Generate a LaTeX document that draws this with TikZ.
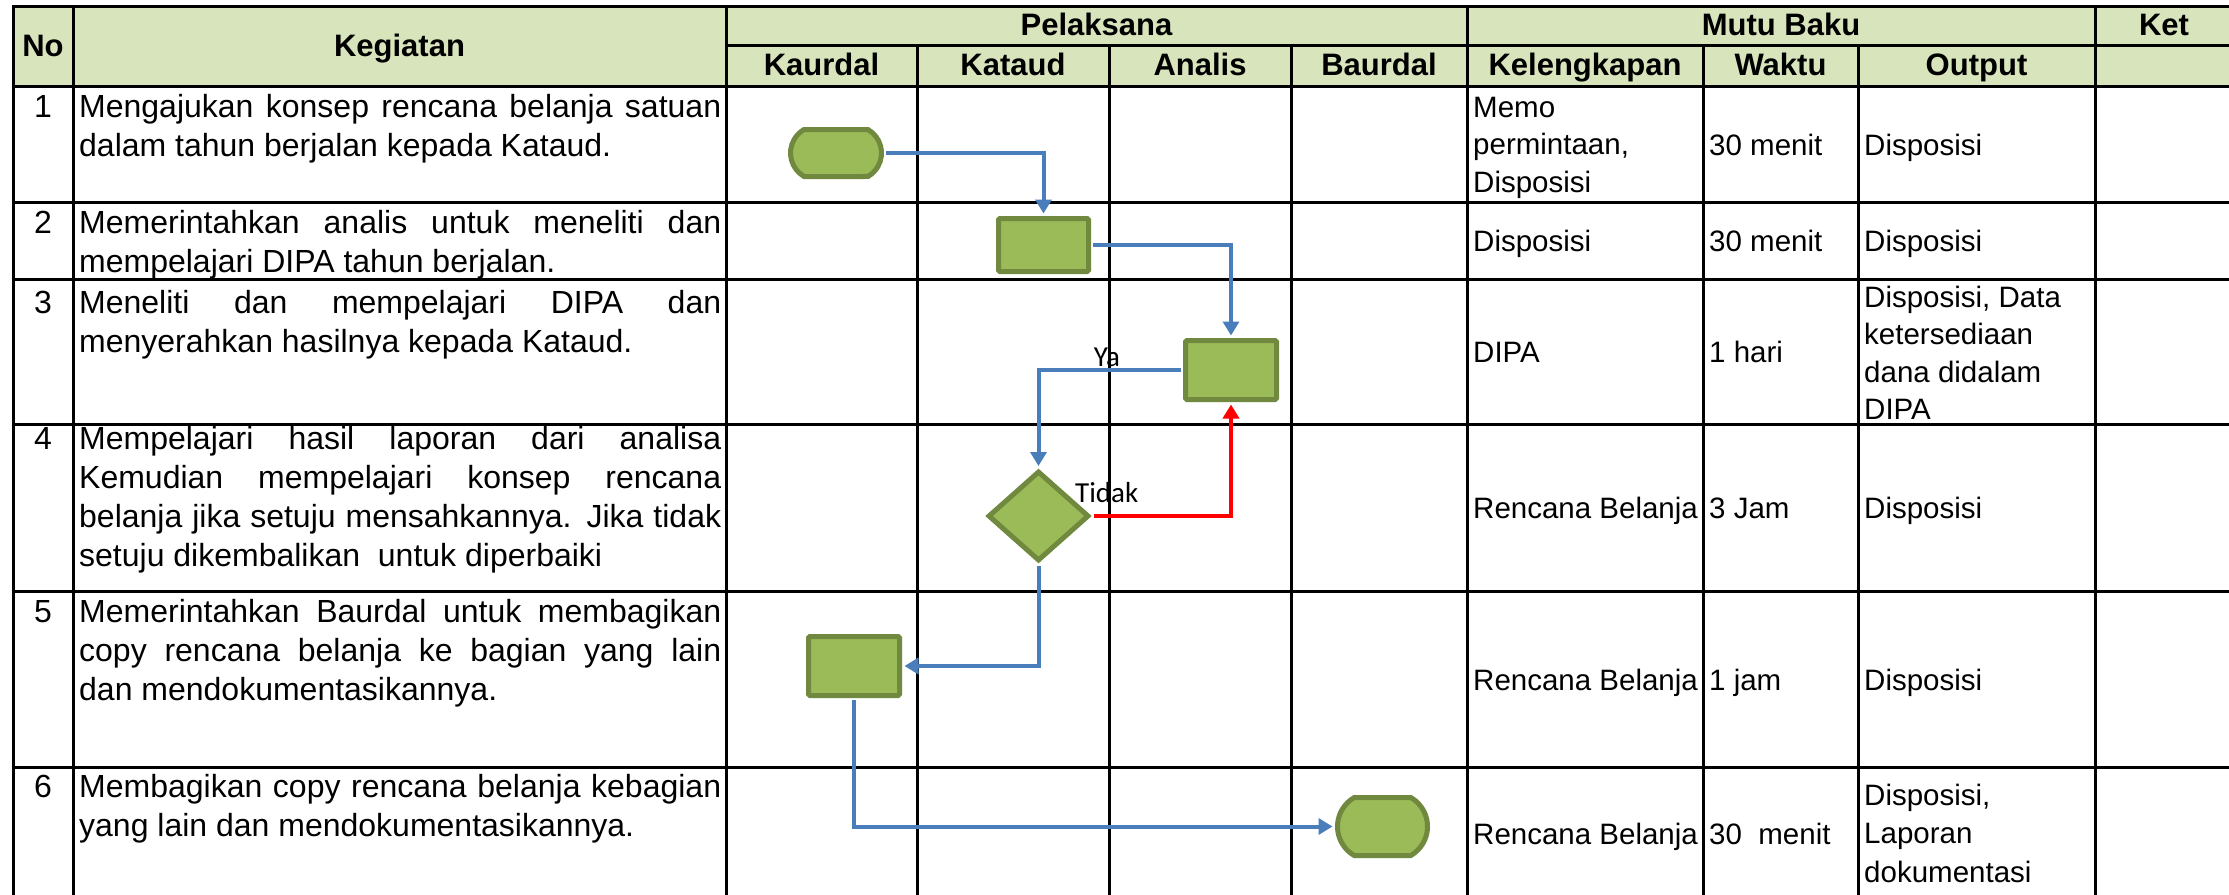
\documentclass[tikz,border=0pt]{standalone}
\usepackage{fontspec}
\setmainfont{Liberation Sans}
\newfontfamily\calibfont{Carlito}
\usetikzlibrary{shapes.geometric,shapes.misc,arrows.meta}
\definecolor{hdr}{HTML}{D8E4BC}
\definecolor{shfill}{HTML}{9BBB59}
\definecolor{shline}{HTML}{71893F}
\definecolor{conn}{HTML}{4A7EBB}
\definecolor{redflow}{HTML}{FF0000}
\newcommand{\kegtext}[1]{\parbox[t]{642pt}{#1}}
\newcommand{\jl}[1]{\makebox[642pt][s]{#1}}
\newcommand{\celltext}[1]{\parbox[t]{230pt}{\raggedright #1}}
\begin{document}
\begin{tikzpicture}[x=1pt,y=-1pt,
  grid/.style={line width=3pt, black, line cap=rect},
  hd/.style={anchor=base, inner sep=0pt, font=\fontsize{31}{37}\selectfont\bfseries},
  num/.style={anchor=base, inner sep=0pt, font=\fontsize{32}{39}\selectfont},
  keg/.style={anchor=base west, inner sep=0pt, font=\fontsize{32}{39}\selectfont},
  cell/.style={anchor=base west, inner sep=0pt, font=\fontsize{29.5}{37.5}\selectfont},
  fc/.style={draw=shline, fill=shfill, line width=5pt, inner sep=0pt},
  procbox/.style={fc, rectangle, rounded corners=1.5pt},
  termbox/.style={fc, rounded rectangle, rounded rectangle arc length=120},
  decbox/.style={fc, diamond},
  flow/.style={draw=conn, line width=4pt, -{Triangle[length=14pt,width=16pt]}, shorten >=2.5pt, shorten <=2pt},
  flowno/.style={flow, draw=redflow},
  lbl/.style={inner sep=0pt, font=\calibfont\fontsize{29}{34}\selectfont}
]
\useasboundingbox (0,0) rectangle (2229,894);
\clip (0,0) rectangle (2229,894);
\fill[white] (0,0) rectangle (2229,894);
% header background
\fill[hdr] (13,6) rectangle (2233,86);
% grid
\draw[grid] (13,6) -- (2233,6);
\draw[grid] (726,45) -- (2233,45);
\foreach \yy in {86,202,279,424,591,767,899} \draw[grid] (13,\yy) -- (2233,\yy);
\foreach \xx in {13,73,726,1467,2095,2233} \draw[grid] (\xx,6) -- (\xx,899);
\foreach \xx in {917,1109,1291,1703,1858} \draw[grid] (\xx,45) -- (\xx,899);

% header texts
\node[hd] (hno) at (43,56) {No};
\node[hd] (hkeg) at (399.5,56) {Kegiatan};
\node[hd] (hpel) at (1096.5,35) {Pelaksana};
\node[hd] (hmutu) at (1781,35) {Mutu Baku};
\node[hd] (hket) at (2164,35) {Ket};
\node[hd] (hkaurdal) at (821.5,75) {Kaurdal};
\node[hd] (hkataud) at (1013,75) {Kataud};
\node[hd] (hanalis) at (1200,75) {Analis};
\node[hd] (hbaurdal) at (1379,75) {Baurdal};
\node[hd] (hkel) at (1585,75) {Kelengkapan};
\node[hd] (hwaktu) at (1780.5,75) {Waktu};
\node[hd] (houtput) at (1976.5,75) {Output};

% numbers
\node[num] (n1) at (43,117) {1};
\node[num] (n2) at (43,233) {2};
\node[num] (n3) at (43,313) {3};
\node[num] (n4) at (43,449) {4};
\node[num] (n5) at (43,622) {5};
\node[num] (n6) at (43,797) {6};

% kegiatan
\node[keg] (k1) at (79,117) {\kegtext{\jl{Mengajukan konsep rencana belanja satuan}\\dalam tahun berjalan kepada Kataud.}};
\node[keg] (k2) at (79,233) {\kegtext{\jl{Memerintahkan analis untuk meneliti dan}\\mempelajari DIPA tahun berjalan.}};
\node[keg] (k3) at (79,313) {\kegtext{\jl{Meneliti dan mempelajari DIPA dan}\\menyerahkan hasilnya kepada Kataud.}};
\node[keg] (k4) at (79,449) {\kegtext{\jl{Mempelajari hasil laporan dari analisa}\\\jl{Kemudian mempelajari konsep rencana}\\\jl{belanja jika setuju mensahkannya. Jika tidak}\\setuju dikembalikan\ \ untuk diperbaiki}};
\node[keg] (k5) at (79,622) {\kegtext{\jl{Memerintahkan Baurdal untuk membagikan}\\\jl{copy rencana belanja ke bagian yang lain}\\dan mendokumentasikannya.}};
\node[keg] (k6) at (79,797) {\kegtext{\jl{Membagikan copy rencana belanja kebagian}\\yang lain dan mendokumentasikannya.}};

% kelengkapan
\node[cell] (c1a) at (1473,117) {\celltext{Memo\\permintaan,\\Disposisi}};
\node[cell] (c2a) at (1473,251) {Disposisi};
\node[cell] (c3a) at (1473,362) {DIPA};
\node[cell] (c4a) at (1473,518) {Rencana Belanja};
\node[cell] (c5a) at (1473,690) {Rencana Belanja};
\node[cell] (c6a) at (1473,844) {Rencana Belanja};
% waktu
\node[cell] (c1b) at (1709,155) {30 menit};
\node[cell] (c2b) at (1709,251) {30 menit};
\node[cell] (c3b) at (1709,362) {1 hari};
\node[cell] (c4b) at (1709,518) {3 Jam};
\node[cell] (c5b) at (1709,690) {1 jam};
\node[cell] (c6b) at (1709,844) {30\ \ menit};
% output
\node[cell] (c1c) at (1864,155) {Disposisi};
\node[cell] (c2c) at (1864,251) {Disposisi};
\node[cell] (c3c) at (1864,307) {\celltext{Disposisi, Data\\ketersediaan\\dana didalam\\DIPA}};
\node[cell] (c4c) at (1864,518) {Disposisi};
\node[cell] (c5c) at (1864,690) {Disposisi};
\node[cell, font=\fontsize{29.5}{38.5}\selectfont] (c6c) at (1864,805) {\celltext{Disposisi,\\Laporan\\dokumentasi}};

% flowchart shapes
\node[termbox, minimum width=91pt, minimum height=47pt] (t1) at (836,153) {};
\node[procbox, minimum width=90pt, minimum height=53pt] (r2) at (1043.5,245) {};
\node[procbox, minimum width=91pt, minimum height=59pt] (r3) at (1231,370) {};
\node[decbox, minimum width=101pt, minimum height=90pt] (d4) at (1038.5,516) {};
\node[procbox, minimum width=91pt, minimum height=59pt] (r5) at (854,666) {};
\node[termbox, minimum width=90pt, minimum height=58pt] (t6) at (1382.5,826.5) {};

% connectors
\draw[flow] (t1.east) -| (r2.north);
\draw[flow] (r2.east) -| (r3.north);
\draw[flow] (r3.west) -| (d4.north);
\draw[flowno] (d4.east) -| (r3.south);
\draw[flow] (d4.south) |- (r5.east);
\draw[flow] (r5.south) |- (t6.west);

% labels
\node[lbl, anchor=base] (ya) at (1107,366) {Ya};
\node[lbl, anchor=base west] (tidak) at (1075,502) {Tidak};
\end{tikzpicture}
\end{document}
